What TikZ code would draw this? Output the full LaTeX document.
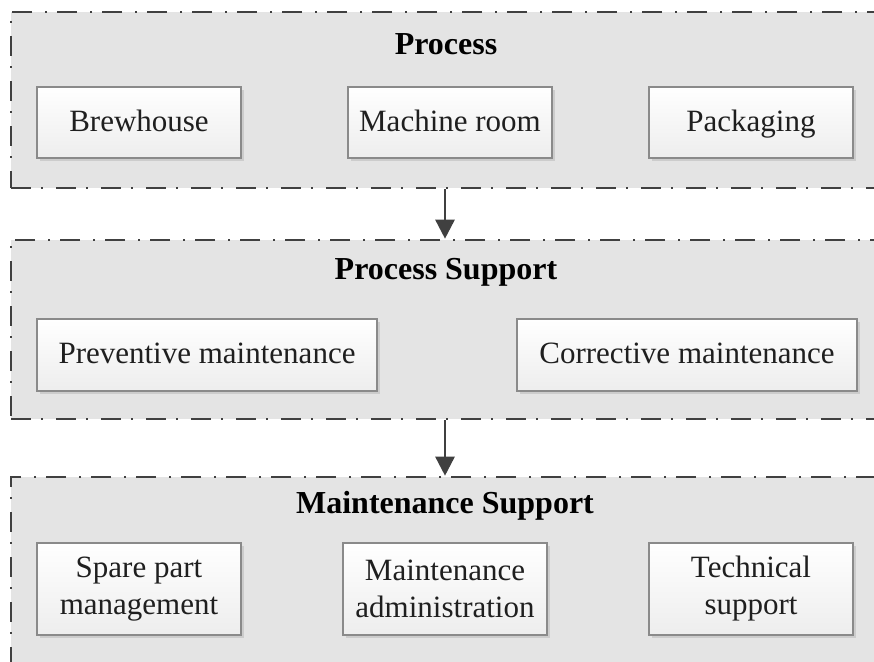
\documentclass[tikz,border=0pt]{standalone}
\usepackage{fontspec}
\setmainfont{Liberation Serif}
\usetikzlibrary{arrows.meta,shadows}
\definecolor{bandgrey}{HTML}{E4E4E4}
\definecolor{linegrey}{HTML}{404040}
\definecolor{boxedge}{HTML}{8A8A8A}
\begin{document}
\begin{tikzpicture}[x=1pt,y=-1pt,
  band/.style={draw=linegrey, line width=2.6pt, fill=bandgrey,
    dash pattern=on 20pt off 10pt on 2pt off 13pt, inner sep=0pt},
  heading/.style={font=\fontsize{32}{38}\selectfont\bfseries, text=black, inner sep=0pt},
  unit/.style={draw=boxedge, line width=1.1pt, top color=white, bottom color=black!7,
    font=\fontsize{31}{37}\selectfont, align=center, inner sep=0pt, text=black!88,
    drop shadow={shadow xshift=2.5pt, shadow yshift=-2.5pt, fill=black, opacity=0.10}},
  oneline/.style={unit, text height=21pt, text depth=4pt},
  flow/.style={draw=linegrey, line width=2.6pt,
    -{Triangle[length=19pt,width=19pt]}}]
\useasboundingbox (0,0) rectangle (874,661);
\fill[white] (0,0) rectangle (874,661);

% three layers, running off the right (and bottom) edge
\node[band, minimum width=890pt, minimum height=176pt] (layerA) at (456,100) {};
\node[band, minimum width=890pt, minimum height=179pt] (layerB) at (456,329.5) {};
\node[band, minimum width=890pt, minimum height=210pt] (layerC) at (456,582) {};

% layer headings
\node[heading] (hA) at (446,44) {Process};
\node[heading] (hB) at (446,272) {Process Support};
\node[heading] (hC) at (445,506) {Maintenance Support};

% process units
\node[oneline, minimum width=204pt, minimum height=71pt] (brew) at (139,122.5) {Brewhouse};
\node[oneline, minimum width=204pt, minimum height=71pt] (mach) at (450,122.5) {Machine room};
\node[oneline, minimum width=204pt, minimum height=71pt] (pack) at (751,122.5) {Packaging};

% process support units
\node[oneline, minimum width=340pt, minimum height=72pt] (prev) at (207,355) {Preventive maintenance};
\node[oneline, minimum width=340pt, minimum height=72pt] (corr) at (687,355) {Corrective maintenance};

% maintenance support units
\node[unit, minimum width=204pt, minimum height=92pt] (spare) at (139,589) {Spare part\\management};
\node[unit, minimum width=204pt, minimum height=92pt] (admin) at (445,589) {Maintenance\\administration};
\node[unit, minimum width=204pt, minimum height=92pt] (tech) at (751,589) {Technical\\support};

% flow between layers
\coordinate (axis) at (445,0);
\draw[flow] (layerA.south -| axis) -- (layerB.north -| axis);
\draw[flow] (layerB.south -| axis) -- (layerC.north -| axis);
\end{tikzpicture}
\end{document}
